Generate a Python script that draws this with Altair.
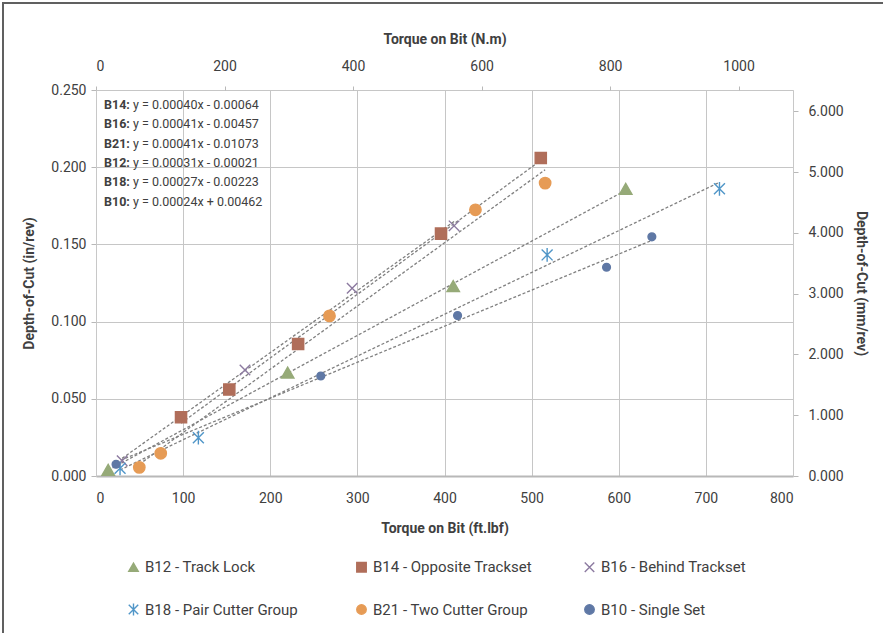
import altair as alt
import pandas as pd

# ---------------- data ----------------
SERIES = ["B12 - Track Lock", "B14 - Opposite Trackset", "B16 - Behind Trackset",
          "B18 - Pair Cutter Group", "B21 - Two Cutter Group", "B10 - Single Set"]

B12_X = [14, 220, 410, 608]
B12_Y = [0.004, 0.067, 0.123, 0.186]
B14_X = [97.6, 153, 232, 396, 510.5]
B14_Y = [0.038, 0.056, 0.0855, 0.157, 0.206]
B16_X = [30, 171, 294, 411]
B16_Y = [0.0099, 0.0687, 0.1216, 0.162]
B18_X = [27.6, 117.5, 517.8, 715.6]
B18_Y = [0.005, 0.0248, 0.1432, 0.186]
B21_X = [49.7, 74.3, 268, 435.5, 515.5]
B21_Y = [0.0056, 0.0147, 0.1037, 0.1724, 0.1897]
B10_X = [23, 258, 415, 586, 638]
B10_Y = [0.0076, 0.0648, 0.1039, 0.1352, 0.1549]

EQ_LABELS = ["B14:", "B16:", "B21:", "B12:", "B18:", "B10:"]
EQ_TEXTS = ["y = 0.00040x - 0.00064", "y = 0.00041x - 0.00457", "y = 0.00041x - 0.01073",
            "y = 0.00031x - 0.00021", "y = 0.00027x - 0.00223", "y = 0.00024x + 0.00462"]

X_TICKS = [0, 100, 200, 300, 400, 500, 600, 700, 800]
Y_TICKS = [0.0, 0.05, 0.10, 0.15, 0.20, 0.25]
NM_TICKS = [0, 200, 400, 600, 800, 1000]
MM_TICKS = [0, 1, 2, 3, 4, 5, 6]

FTLBF_TO_NM = 1.35582
IN_TO_MM = 25.4

COLORS = ["#96AA78", "#B06E5A", "#8C7AA0", "#5096C8", "#E69B55", "#5F78A5"]
SHAPES = ["triangle-up", "square", "M-1,-1L1,1M-1,1L1,-1",
          "M-1,-1L1,1M-1,1L1,-1M0,-1.25L0,1.25", "circle", "circle"]
SIZES = [155, 125, 110, 120, 130, 60]

rows = []
for name, xs, ys in zip(SERIES, [B12_X, B14_X, B16_X, B18_X, B21_X, B10_X],
                        [B12_Y, B14_Y, B16_Y, B18_Y, B21_Y, B10_Y]):
    for xv, yv in zip(xs, ys):
        rows.append({"series": name, "x": xv, "y": yv})
df = pd.DataFrame(rows)

FONT = "Roboto"
TXT = "#404040"
GRID = "#C6C6C6"

W, H = 697, 386

size_expr = " : ".join(f"datum.series === '{s}' ? {v}" for s, v in zip(SERIES[:-1], SIZES[:-1])) + f" : {SIZES[-1]}"

xscale = alt.Scale(domain=[0, 800], nice=False, zero=False)
yscale = alt.Scale(domain=[0, 0.25], nice=False, zero=False)
ser = dict(field="series", type="nominal", title=None, sort=SERIES)

base = alt.Chart(df)

points = base.transform_calculate(sz=size_expr).mark_point(
    filled=True, opacity=1, strokeWidth=1.4
).encode(
    x=alt.X("x:Q", scale=xscale,
            axis=alt.Axis(values=X_TICKS, format="d", title="Torque on Bit (ft.lbf)",
                          grid=True, gridColor=GRID, domainColor="#B8B8B8", domainWidth=2,
                          tickColor="#B8B8B8", tickSize=0, labelPadding=15, titlePadding=16)),
    y=alt.Y("y:Q", scale=yscale,
            axis=alt.Axis(values=Y_TICKS, format=".3f", title="Depth-of-Cut (in/rev)",
                          grid=True, gridColor=GRID, domainColor="#C8C8C8",
                          tickColor="#B8B8B8", tickSize=5, labelPadding=5, titlePadding=14)),
    fill=alt.Fill(**ser, scale=alt.Scale(domain=SERIES, range=COLORS)),
    stroke=alt.Stroke(**ser, scale=alt.Scale(domain=SERIES, range=COLORS)),
    shape=alt.Shape(**ser, scale=alt.Scale(domain=SERIES, range=SHAPES)),
    size=alt.Size("sz:Q", scale=None, legend=None),
)

trend = base.transform_regression("x", "y", groupby=["series"], method="linear").mark_line(
    color="#808080", strokeDash=[3, 2], strokeWidth=1.3
).encode(x=alt.X("x:Q", scale=xscale), y=alt.Y("y:Q", scale=yscale), detail="series:N")

one = alt.Data(values=[{"k": 0}])
eq_lbl = alt.Chart(one).mark_text(
    text=EQ_LABELS, align="left", baseline="middle", font=FONT, fontSize=12.5,
    fontWeight="bold", color=TXT, lineHeight=19.3
).encode(x=alt.value(8), y=alt.value(15))
eq_txt = alt.Chart(one).mark_text(
    text=EQ_TEXTS, align="left", baseline="middle", font=FONT, fontSize=12.5,
    color=TXT, lineHeight=19.3
).encode(x=alt.value(37), y=alt.value(15))

frame = alt.Chart(one).mark_rect(fill=None, stroke="#606060", strokeWidth=2).encode(
    x=alt.value(-93), x2=alt.value(820), y=alt.value(-87), y2=alt.value(600))

inner = alt.layer(trend, points, eq_lbl, eq_txt)

df2 = df.assign(xnm=df["x"] * FTLBF_TO_NM, ymm=df["y"] * IN_TO_MM)
dummy = alt.Chart(df2).mark_point(opacity=0).encode(
    x=alt.X("xnm:Q", scale=alt.Scale(domain=[0, 800 * FTLBF_TO_NM], nice=False, zero=False),
            axis=alt.Axis(orient="top", values=NM_TICKS, format="d", title="Torque on Bit (N.m)",
                          grid=False, domain=False, tickColor="#B8B8B8", tickSize=4,
                          labelPadding=13, titlePadding=13)),
    y=alt.Y("ymm:Q", scale=alt.Scale(domain=[0, 0.25 * IN_TO_MM], nice=False, zero=False),
            axis=alt.Axis(orient="right", values=MM_TICKS, format=".3f",
                          title="Depth-of-Cut (mm/rev)", grid=False, domainColor="#C8C8C8",
                          tickColor="#B8B8B8", tickSize=5, labelPadding=10, titlePadding=10)),
)

chart = alt.layer(frame, inner, dummy).resolve_scale(
    x="independent", y="independent"
).properties(
    width=W, height=H,
    autosize=alt.AutoSizeParams(type="none"),
    padding={"left": 96, "top": 90, "right": 90, "bottom": 157},
).configure_view(stroke=None).configure_axis(
    labelFont=FONT, titleFont=FONT, labelFontSize=14, titleFontSize=14,
    labelColor=TXT, titleColor=TXT, titleFontWeight="bold",
).configure_legend(
    orient="none", legendX=30, legendY=469, columns=3, direction="horizontal",
    gridAlign="all",
    labelFont=FONT, labelFontSize=15, labelColor=TXT, columnPadding=49, rowPadding=24,
    symbolStrokeWidth=1.4, labelLimit=300, symbolOpacity=1, symbolSize=90, labelOffset=4,
)

chart.save("out.html", embed_options={"renderer": "svg", "actions": False})
